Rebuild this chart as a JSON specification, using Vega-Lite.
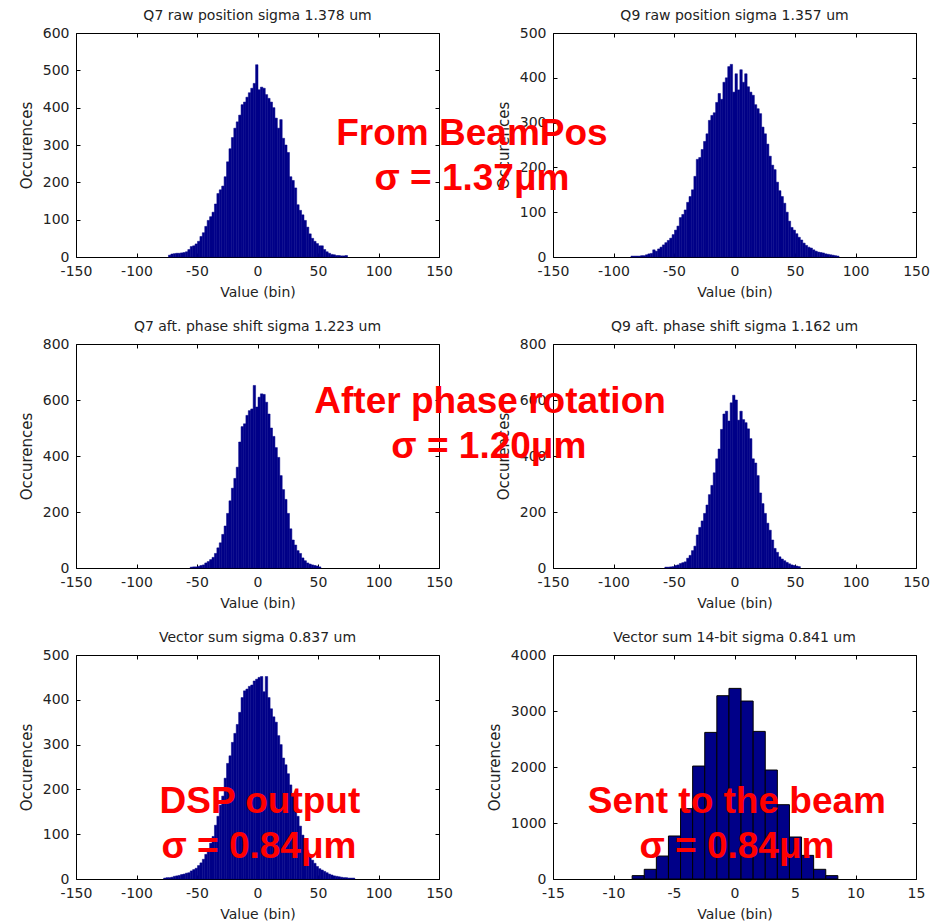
{
  "$schema": "https://vega.github.io/schema/vega-lite/v6.json",
  "padding": {"left": 18, "top": 8, "right": 0, "bottom": 0},
  "background": "white",
  "datasets": {
    "p1": [
      {"v":-73,"n":5},{"v":-71,"n":8},{"v":-69,"n":9},{"v":-67,"n":10},{"v":-65,"n":10},{"v":-63,"n":11},{"v":-61,"n":12},{"v":-59,"n":14},{"v":-57,"n":20},{"v":-55,"n":28},{"v":-53,"n":30},{"v":-51,"n":35},{"v":-49,"n":42},{"v":-47,"n":55},{"v":-45,"n":65},{"v":-43,"n":82},{"v":-41,"n":98},{"v":-39,"n":108},{"v":-37,"n":120},{"v":-35,"n":142},{"v":-33,"n":170},{"v":-31,"n":180},{"v":-29,"n":190},{"v":-27,"n":215},{"v":-25,"n":255},{"v":-23,"n":290},{"v":-21,"n":320},{"v":-19,"n":345},{"v":-17,"n":362},{"v":-15,"n":380},{"v":-13,"n":408},{"v":-11,"n":415},{"v":-9,"n":428},{"v":-7,"n":440},{"v":-5,"n":452},{"v":-3,"n":465},{"v":-1,"n":515},{"v":1,"n":448},{"v":3,"n":455},{"v":5,"n":452},{"v":7,"n":435},{"v":9,"n":425},{"v":11,"n":415},{"v":13,"n":400},{"v":15,"n":372},{"v":17,"n":345},{"v":19,"n":368},{"v":21,"n":318},{"v":23,"n":300},{"v":25,"n":280},{"v":27,"n":215},{"v":29,"n":205},{"v":31,"n":185},{"v":33,"n":140},{"v":35,"n":125},{"v":37,"n":113},{"v":39,"n":98},{"v":41,"n":80},{"v":43,"n":62},{"v":45,"n":50},{"v":47,"n":42},{"v":49,"n":36},{"v":51,"n":30},{"v":53,"n":30},{"v":55,"n":20},{"v":57,"n":14},{"v":59,"n":10},{"v":61,"n":7},{"v":63,"n":6},{"v":65,"n":4},{"v":67,"n":4},{"v":69,"n":3},{"v":71,"n":3},{"v":73,"n":4}
    ],
    "p2": [
      {"v":-85,"n":2},{"v":-83,"n":2},{"v":-81,"n":2},{"v":-79,"n":2},{"v":-77,"n":3},{"v":-75,"n":3},{"v":-73,"n":5},{"v":-71,"n":7},{"v":-69,"n":8},{"v":-67,"n":16},{"v":-65,"n":13},{"v":-63,"n":18},{"v":-61,"n":22},{"v":-59,"n":27},{"v":-57,"n":32},{"v":-55,"n":37},{"v":-53,"n":42},{"v":-51,"n":50},{"v":-49,"n":60},{"v":-47,"n":69},{"v":-45,"n":88},{"v":-43,"n":95},{"v":-41,"n":105},{"v":-39,"n":122},{"v":-37,"n":135},{"v":-35,"n":150},{"v":-33,"n":180},{"v":-31,"n":218},{"v":-29,"n":222},{"v":-27,"n":240},{"v":-25,"n":258},{"v":-23,"n":275},{"v":-21,"n":305},{"v":-19,"n":316},{"v":-17,"n":322},{"v":-15,"n":345},{"v":-13,"n":365},{"v":-11,"n":352},{"v":-9,"n":390},{"v":-7,"n":400},{"v":-5,"n":425},{"v":-3,"n":430},{"v":-1,"n":368},{"v":1,"n":409},{"v":3,"n":373},{"v":5,"n":418},{"v":7,"n":390},{"v":9,"n":409},{"v":11,"n":380},{"v":13,"n":368},{"v":15,"n":361},{"v":17,"n":340},{"v":19,"n":331},{"v":21,"n":320},{"v":23,"n":290},{"v":25,"n":275},{"v":27,"n":252},{"v":29,"n":225},{"v":31,"n":205},{"v":33,"n":195},{"v":35,"n":167},{"v":37,"n":148},{"v":39,"n":135},{"v":41,"n":120},{"v":43,"n":100},{"v":45,"n":80},{"v":47,"n":66},{"v":49,"n":60},{"v":51,"n":52},{"v":53,"n":44},{"v":55,"n":38},{"v":57,"n":31},{"v":59,"n":26},{"v":61,"n":22},{"v":63,"n":20},{"v":65,"n":16},{"v":67,"n":13},{"v":69,"n":11},{"v":71,"n":10},{"v":73,"n":9},{"v":75,"n":7},{"v":77,"n":6},{"v":79,"n":5},{"v":81,"n":4},{"v":83,"n":3},{"v":85,"n":2}
    ],
    "p3": [
      {"v":-55,"n":3},{"v":-53,"n":4},{"v":-51,"n":4},{"v":-49,"n":6},{"v":-47,"n":9},{"v":-45,"n":11},{"v":-43,"n":18},{"v":-41,"n":23},{"v":-39,"n":30},{"v":-37,"n":38},{"v":-35,"n":52},{"v":-33,"n":72},{"v":-31,"n":90},{"v":-29,"n":120},{"v":-27,"n":150},{"v":-25,"n":195},{"v":-23,"n":240},{"v":-21,"n":285},{"v":-19,"n":320},{"v":-17,"n":360},{"v":-15,"n":450},{"v":-13,"n":505},{"v":-11,"n":515},{"v":-9,"n":545},{"v":-7,"n":562},{"v":-5,"n":568},{"v":-3,"n":652},{"v":-1,"n":575},{"v":1,"n":610},{"v":3,"n":622},{"v":5,"n":620},{"v":7,"n":592},{"v":9,"n":550},{"v":11,"n":500},{"v":13,"n":470},{"v":15,"n":430},{"v":17,"n":395},{"v":19,"n":330},{"v":21,"n":280},{"v":23,"n":245},{"v":25,"n":195},{"v":27,"n":140},{"v":29,"n":100},{"v":31,"n":82},{"v":33,"n":62},{"v":35,"n":52},{"v":37,"n":36},{"v":39,"n":26},{"v":41,"n":18},{"v":43,"n":14},{"v":45,"n":11},{"v":47,"n":9},{"v":49,"n":7},{"v":51,"n":4}
    ],
    "p4": [
      {"v":-57,"n":3},{"v":-55,"n":3},{"v":-53,"n":4},{"v":-51,"n":5},{"v":-49,"n":9},{"v":-47,"n":11},{"v":-45,"n":16},{"v":-43,"n":19},{"v":-41,"n":22},{"v":-39,"n":35},{"v":-37,"n":45},{"v":-35,"n":62},{"v":-33,"n":78},{"v":-31,"n":118},{"v":-29,"n":145},{"v":-27,"n":168},{"v":-25,"n":195},{"v":-23,"n":225},{"v":-21,"n":262},{"v":-19,"n":295},{"v":-17,"n":340},{"v":-15,"n":390},{"v":-13,"n":425},{"v":-11,"n":495},{"v":-9,"n":550},{"v":-7,"n":560},{"v":-5,"n":525},{"v":-3,"n":590},{"v":-1,"n":617},{"v":1,"n":600},{"v":3,"n":528},{"v":5,"n":560},{"v":7,"n":530},{"v":9,"n":519},{"v":11,"n":497},{"v":13,"n":462},{"v":15,"n":390},{"v":17,"n":375},{"v":19,"n":330},{"v":21,"n":268},{"v":23,"n":230},{"v":25,"n":195},{"v":27,"n":160},{"v":29,"n":135},{"v":31,"n":100},{"v":33,"n":70},{"v":35,"n":56},{"v":37,"n":40},{"v":39,"n":32},{"v":41,"n":26},{"v":43,"n":20},{"v":45,"n":15},{"v":47,"n":11},{"v":49,"n":9},{"v":51,"n":7},{"v":53,"n":5}
    ],
    "p5": [
      {"v":-77,"n":2},{"v":-75,"n":3},{"v":-73,"n":3},{"v":-71,"n":4},{"v":-69,"n":6},{"v":-67,"n":7},{"v":-65,"n":8},{"v":-63,"n":10},{"v":-61,"n":11},{"v":-59,"n":13},{"v":-57,"n":14},{"v":-55,"n":18},{"v":-53,"n":21},{"v":-51,"n":24},{"v":-49,"n":30},{"v":-47,"n":36},{"v":-45,"n":44},{"v":-43,"n":55},{"v":-41,"n":68},{"v":-39,"n":80},{"v":-37,"n":95},{"v":-35,"n":120},{"v":-33,"n":140},{"v":-31,"n":165},{"v":-29,"n":185},{"v":-27,"n":225},{"v":-25,"n":258},{"v":-23,"n":275},{"v":-21,"n":305},{"v":-19,"n":325},{"v":-17,"n":345},{"v":-15,"n":372},{"v":-13,"n":405},{"v":-11,"n":420},{"v":-9,"n":424},{"v":-7,"n":430},{"v":-5,"n":433},{"v":-3,"n":442},{"v":-1,"n":446},{"v":1,"n":450},{"v":3,"n":452},{"v":5,"n":418},{"v":7,"n":452},{"v":9,"n":405},{"v":11,"n":380},{"v":13,"n":362},{"v":15,"n":350},{"v":17,"n":320},{"v":19,"n":300},{"v":21,"n":270},{"v":23,"n":255},{"v":25,"n":235},{"v":27,"n":210},{"v":29,"n":190},{"v":31,"n":165},{"v":33,"n":140},{"v":35,"n":118},{"v":37,"n":98},{"v":39,"n":80},{"v":41,"n":64},{"v":43,"n":52},{"v":45,"n":42},{"v":47,"n":35},{"v":49,"n":28},{"v":51,"n":23},{"v":53,"n":20},{"v":55,"n":17},{"v":57,"n":14},{"v":59,"n":11},{"v":61,"n":9},{"v":63,"n":7},{"v":65,"n":6},{"v":67,"n":5},{"v":69,"n":4},{"v":71,"n":3},{"v":73,"n":3},{"v":75,"n":2},{"v":77,"n":2},{"v":79,"n":2}
    ],
    "p6": [
      {"v":-9,"n":20},{"v":-8,"n":60},{"v":-7,"n":173},{"v":-6,"n":410},{"v":-5,"n":768},{"v":-4,"n":1256},{"v":-3,"n":2017},{"v":-2,"n":2618},{"v":-1,"n":3273},{"v":0,"n":3404},{"v":1,"n":3178},{"v":2,"n":2636},{"v":3,"n":1946},{"v":4,"n":1327},{"v":5,"n":750},{"v":6,"n":422},{"v":7,"n":173},{"v":8,"n":60}
    ],
    "a2": [
      {"x":-217,"y":250,"label":"From BeamPos"},
      {"x":-217,"y":149.6,"label":"σ = 1.37μm"}
    ],
    "a4": [
      {"x":-202,"y":553.6,"label":"After phase rotation"},
      {"x":-203,"y":392.9,"label":"σ = 1.20μm"}
    ],
    "a5": [
      {"x":2,"y":147.3,"label":"DSP output"},
      {"x":1.2,"y":46.9,"label":"σ = 0.84μm"}
    ],
    "a6": [
      {"x":0.2,"y":1178.6,"label":"Sent to the beam"},
      {"x":0.2,"y":375,"label":"σ = 0.84μm"}
    ],
    "none": []
  },
  "columns": 2,
  "bounds": "flush",
  "spacing": {"row": 87, "column": 114},
  "concat": [
    {
      "width": 363, "height": 224,
      "title": {"text": "Q7 raw position sigma 1.378 um"},
      "resolve": {"axis": {"x": "independent", "y": "independent"}},
      "layer": [
        {
          "data": {"name": "p1"},
          "mark": {"type": "bar", "color": "#000088", "stroke": "#000088", "strokeWidth": 0.5, "binSpacing": 0},
          "encoding": {
            "x": {"field": "v", "type": "quantitative", "bin": {"step": 2, "anchor": 0}, "scale": {"domain": [-150, 150], "nice": false}, "axis": {"values": [-150,-100,-50,0,50,100,150], "labelExpr": "'' + datum.value"}, "title": "Value (bin)"},
            "y": {"field": "n", "type": "quantitative", "aggregate": "sum", "scale": {"domain": [0, 600], "nice": false}, "axis": {"values": [0,100,200,300,400,500,600], "format": "d"}, "title": "Occurences"}
          }
        },
        {
          "data": {"name": "none"},
          "mark": {"type": "text"},
          "encoding": {
            "x": {"field": "x", "type": "quantitative", "scale": {"domain": [-150, 150], "nice": false}, "axis": {"orient": "top", "labels": false, "title": null, "values": [-150,-100,-50,0,50,100,150]}},
            "y": {"field": "y", "type": "quantitative", "scale": {"domain": [0, 600], "nice": false}, "axis": {"orient": "right", "labels": false, "title": null, "values": [0,100,200,300,400,500,600]}},
            "text": {"field": "label"}
          }
        }
      ]
    },
    {
      "width": 363, "height": 224,
      "title": {"text": "Q9 raw position sigma 1.357 um"},
      "resolve": {"axis": {"x": "independent", "y": "independent"}},
      "layer": [
        {
          "data": {"name": "p2"},
          "mark": {"type": "bar", "color": "#000088", "stroke": "#000088", "strokeWidth": 0.5, "binSpacing": 0},
          "encoding": {
            "x": {"field": "v", "type": "quantitative", "bin": {"step": 2, "anchor": 0}, "scale": {"domain": [-150, 150], "nice": false}, "axis": {"values": [-150,-100,-50,0,50,100,150], "labelExpr": "'' + datum.value"}, "title": "Value (bin)"},
            "y": {"field": "n", "type": "quantitative", "aggregate": "sum", "scale": {"domain": [0, 500], "nice": false}, "axis": {"values": [0,100,200,300,400,500], "format": "d"}, "title": "Occurences"}
          }
        },
        {
          "data": {"name": "a2"},
          "mark": {"type": "text", "font": "Liberation Sans", "fontWeight": "bold", "fontSize": 37, "color": "#FF0000", "align": "center", "baseline": "alphabetic"},
          "encoding": {
            "x": {"field": "x", "type": "quantitative", "scale": {"domain": [-150, 150], "nice": false}, "axis": {"orient": "top", "labels": false, "title": null, "values": [-150,-100,-50,0,50,100,150]}},
            "y": {"field": "y", "type": "quantitative", "scale": {"domain": [0, 500], "nice": false}, "axis": {"orient": "right", "labels": false, "title": null, "values": [0,100,200,300,400,500]}},
            "text": {"field": "label"}
          }
        }
      ]
    },
    {
      "width": 363, "height": 224,
      "title": {"text": "Q7 aft. phase shift sigma 1.223 um"},
      "resolve": {"axis": {"x": "independent", "y": "independent"}},
      "layer": [
        {
          "data": {"name": "p3"},
          "mark": {"type": "bar", "color": "#000088", "stroke": "#000088", "strokeWidth": 0.5, "binSpacing": 0},
          "encoding": {
            "x": {"field": "v", "type": "quantitative", "bin": {"step": 2, "anchor": 0}, "scale": {"domain": [-150, 150], "nice": false}, "axis": {"values": [-150,-100,-50,0,50,100,150], "labelExpr": "'' + datum.value"}, "title": "Value (bin)"},
            "y": {"field": "n", "type": "quantitative", "aggregate": "sum", "scale": {"domain": [0, 800], "nice": false}, "axis": {"values": [0,200,400,600,800], "format": "d"}, "title": "Occurences"}
          }
        },
        {
          "data": {"name": "none"},
          "mark": {"type": "text"},
          "encoding": {
            "x": {"field": "x", "type": "quantitative", "scale": {"domain": [-150, 150], "nice": false}, "axis": {"orient": "top", "labels": false, "title": null, "values": [-150,-100,-50,0,50,100,150]}},
            "y": {"field": "y", "type": "quantitative", "scale": {"domain": [0, 800], "nice": false}, "axis": {"orient": "right", "labels": false, "title": null, "values": [0,200,400,600,800]}},
            "text": {"field": "label"}
          }
        }
      ]
    },
    {
      "width": 363, "height": 224,
      "title": {"text": "Q9 aft. phase shift sigma 1.162 um"},
      "resolve": {"axis": {"x": "independent", "y": "independent"}},
      "layer": [
        {
          "data": {"name": "p4"},
          "mark": {"type": "bar", "color": "#000088", "stroke": "#000088", "strokeWidth": 0.5, "binSpacing": 0},
          "encoding": {
            "x": {"field": "v", "type": "quantitative", "bin": {"step": 2, "anchor": 0}, "scale": {"domain": [-150, 150], "nice": false}, "axis": {"values": [-150,-100,-50,0,50,100,150], "labelExpr": "'' + datum.value"}, "title": "Value (bin)"},
            "y": {"field": "n", "type": "quantitative", "aggregate": "sum", "scale": {"domain": [0, 800], "nice": false}, "axis": {"values": [0,200,400,600,800], "format": "d"}, "title": "Occurences"}
          }
        },
        {
          "data": {"name": "a4"},
          "mark": {"type": "text", "font": "Liberation Sans", "fontWeight": "bold", "fontSize": 37, "color": "#FF0000", "align": "center", "baseline": "alphabetic"},
          "encoding": {
            "x": {"field": "x", "type": "quantitative", "scale": {"domain": [-150, 150], "nice": false}, "axis": {"orient": "top", "labels": false, "title": null, "values": [-150,-100,-50,0,50,100,150]}},
            "y": {"field": "y", "type": "quantitative", "scale": {"domain": [0, 800], "nice": false}, "axis": {"orient": "right", "labels": false, "title": null, "values": [0,200,400,600,800]}},
            "text": {"field": "label"}
          }
        }
      ]
    },
    {
      "width": 363, "height": 224,
      "title": {"text": "Vector sum sigma 0.837 um"},
      "resolve": {"axis": {"x": "independent", "y": "independent"}},
      "layer": [
        {
          "data": {"name": "p5"},
          "mark": {"type": "bar", "color": "#000088", "stroke": "#000088", "strokeWidth": 0.5, "binSpacing": 0},
          "encoding": {
            "x": {"field": "v", "type": "quantitative", "bin": {"step": 2, "anchor": 0}, "scale": {"domain": [-150, 150], "nice": false}, "axis": {"values": [-150,-100,-50,0,50,100,150], "labelExpr": "'' + datum.value"}, "title": "Value (bin)"},
            "y": {"field": "n", "type": "quantitative", "aggregate": "sum", "scale": {"domain": [0, 500], "nice": false}, "axis": {"values": [0,100,200,300,400,500], "format": "d"}, "title": "Occurences"}
          }
        },
        {
          "data": {"name": "a5"},
          "mark": {"type": "text", "font": "Liberation Sans", "fontWeight": "bold", "fontSize": 37, "color": "#FF0000", "align": "center", "baseline": "alphabetic"},
          "encoding": {
            "x": {"field": "x", "type": "quantitative", "scale": {"domain": [-150, 150], "nice": false}, "axis": {"orient": "top", "labels": false, "title": null, "values": [-150,-100,-50,0,50,100,150]}},
            "y": {"field": "y", "type": "quantitative", "scale": {"domain": [0, 500], "nice": false}, "axis": {"orient": "right", "labels": false, "title": null, "values": [0,100,200,300,400,500]}},
            "text": {"field": "label"}
          }
        }
      ]
    },
    {
      "width": 363, "height": 224,
      "title": {"text": "Vector sum 14-bit sigma 0.841 um"},
      "resolve": {"axis": {"x": "independent", "y": "independent"}},
      "layer": [
        {
          "data": {"name": "p6"},
          "mark": {"type": "bar", "color": "#000088", "stroke": "#000000", "strokeWidth": 1, "binSpacing": 0},
          "encoding": {
            "x": {"field": "v", "type": "quantitative", "bin": {"step": 1, "anchor": 0.5}, "scale": {"domain": [-15, 15], "nice": false}, "axis": {"values": [-15,-10,-5,0,5,10,15], "labelExpr": "'' + datum.value"}, "title": "Value (bin)"},
            "y": {"field": "n", "type": "quantitative", "aggregate": "sum", "scale": {"domain": [0, 4000], "nice": false}, "axis": {"values": [0,1000,2000,3000,4000], "format": "d"}, "title": "Occurences"}
          }
        },
        {
          "data": {"name": "a6"},
          "mark": {"type": "text", "font": "Liberation Sans", "fontWeight": "bold", "fontSize": 37, "color": "#FF0000", "align": "center", "baseline": "alphabetic"},
          "encoding": {
            "x": {"field": "x", "type": "quantitative", "scale": {"domain": [-15, 15], "nice": false}, "axis": {"orient": "top", "labels": false, "title": null, "values": [-15,-10,-5,0,5,10,15]}},
            "y": {"field": "y", "type": "quantitative", "scale": {"domain": [0, 4000], "nice": false}, "axis": {"orient": "right", "labels": false, "title": null, "values": [0,1000,2000,3000,4000]}},
            "text": {"field": "label"}
          }
        }
      ]
    }
  ],
  "config": {
    "font": "DejaVu Sans",
    "view": {"stroke": "#000000", "strokeWidth": 1},
    "axis": {
      "domain": false, "grid": false, "ticks": true, "tickSize": -4, "tickColor": "#000000", "tickWidth": 1,
      "labelFont": "DejaVu Sans", "labelFontSize": 14, "labelColor": "#222222", "labelFlush": false, "labelOverlap": false, "labelPadding": 11,
      "titleFont": "DejaVu Sans", "titleFontSize": 14, "titleFontWeight": "normal", "titleColor": "#222222"
    },
    "axisX": {"titlePadding": 7},
    "axisY": {"titleFontSize": 15, "titlePadding": 8},
    "title": {"font": "DejaVu Sans", "fontSize": 14, "fontWeight": "normal", "color": "#222222", "baseline": "alphabetic", "offset": 3}
  }
}
